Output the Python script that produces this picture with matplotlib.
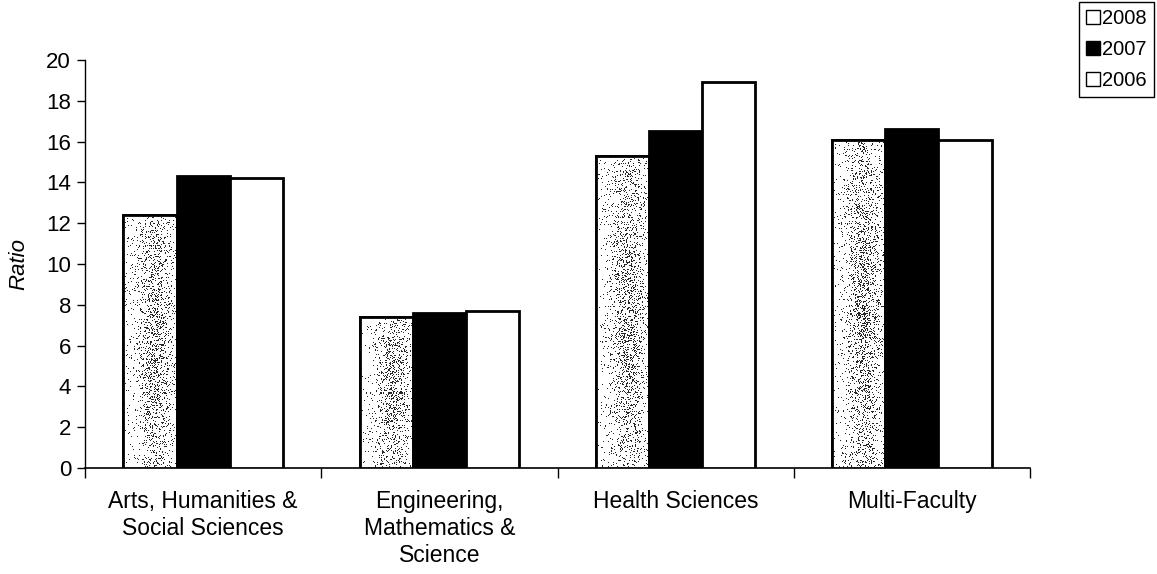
import numpy as np
import matplotlib
matplotlib.use("Agg")
import matplotlib.pyplot as plt
from matplotlib.patches import Patch

# Ratio per faculty group and year
categories = ["Arts, Humanities &\nSocial Sciences",
              "Engineering,\nMathematics &\nScience",
              "Health Sciences",
              "Multi-Faculty"]
years = ["2008", "2007", "2006"]
ratio_2008 = [12.4, 7.4, 15.3, 16.1]
ratio_2007 = [14.3, 7.6, 16.5, 16.6]
ratio_2006 = [14.2, 7.7, 18.9, 16.1]

plt.rcParams['font.family'] = ['Liberation Sans', 'DejaVu Sans']

fig = plt.figure(figsize=(11.57, 5.74), dpi=100)
ax = fig.add_axes([85/1157, 1 - 468/574, 945/1157, 408/574])

x = np.arange(len(categories))
w = 0.225
rng = np.random.default_rng(3)

# 2008 bars: white with a stippled texture inside
bars08 = ax.bar(x - w, ratio_2008, w, facecolor="white", edgecolor="black",
                linewidth=2, zorder=3)
for b in bars08:
    bx, by = b.get_x(), b.get_y()
    bw, bh = b.get_width(), b.get_height()
    nx, ny = 54, int(bh * 20.4)
    u = np.linspace(0, 1, nx)[None, :]
    v = np.linspace(0, 1, ny)[:, None]
    dens = 0.03 + 0.26 * np.exp(-((u - 0.6) / 0.28) ** 2) * (0.45 + 0.55 * np.exp(-((v - 0.5) / 0.4) ** 2))
    tex = np.where(rng.random((ny, nx)) < dens, 0.15, 1.0)
    im = ax.imshow(tex, cmap="gray", vmin=0, vmax=1, extent=(bx, bx + bw, by, by + bh),
                   aspect="auto", interpolation="nearest", zorder=3.5)
    im.set_clip_path(b)
    # redraw outline on top
    ax.bar(bx + bw / 2, bh, bw, facecolor="none", edgecolor="black", linewidth=2, zorder=4)

ax.bar(x, ratio_2007, w, facecolor="black", edgecolor="black", linewidth=2, zorder=4)
ax.bar(x + w, ratio_2006, w, facecolor="white", edgecolor="black", linewidth=2, zorder=4)

ax.set_xlim(-0.5, len(categories) - 0.5)
ax.set_ylim(0, 20)
ax.set_yticks(np.arange(0, 21, 2))
ax.tick_params(axis="y", direction="out", length=6, width=1, labelsize=16, pad=4)
ax.set_xticks(np.arange(-0.5, len(categories)), minor=False)
ax.set_xticklabels([])
ax.tick_params(axis="x", direction="out", length=7, width=1)
for i, c in enumerate(categories):
    ax.text(i, -1.1, c, ha="center", va="top", fontsize=16.5, linespacing=1.2)

ax.spines["top"].set_visible(False)
ax.spines["right"].set_visible(False)
ax.spines["left"].set_linewidth(1)
ax.spines["bottom"].set_linewidth(1.2)
ax.set_ylabel("Ratio", fontsize=16, style="italic", labelpad=12)

handles = [Patch(facecolor="white", edgecolor="black"),
           Patch(facecolor="black", edgecolor="black"),
           Patch(facecolor="white", edgecolor="black")]
leg = fig.legend(handles, years, loc="upper right", bbox_to_anchor=(1154/1157, 1 - 2/574),
                 fontsize=14.5, frameon=True, fancybox=False, framealpha=1,
                 handlelength=0.7, handleheight=0.7, handletextpad=0.1,
                 labelspacing=0.6, borderpad=0.35, borderaxespad=0)
leg.get_frame().set_edgecolor("black")
leg.get_frame().set_linewidth(1)

fig.savefig("out.png", dpi=100)
